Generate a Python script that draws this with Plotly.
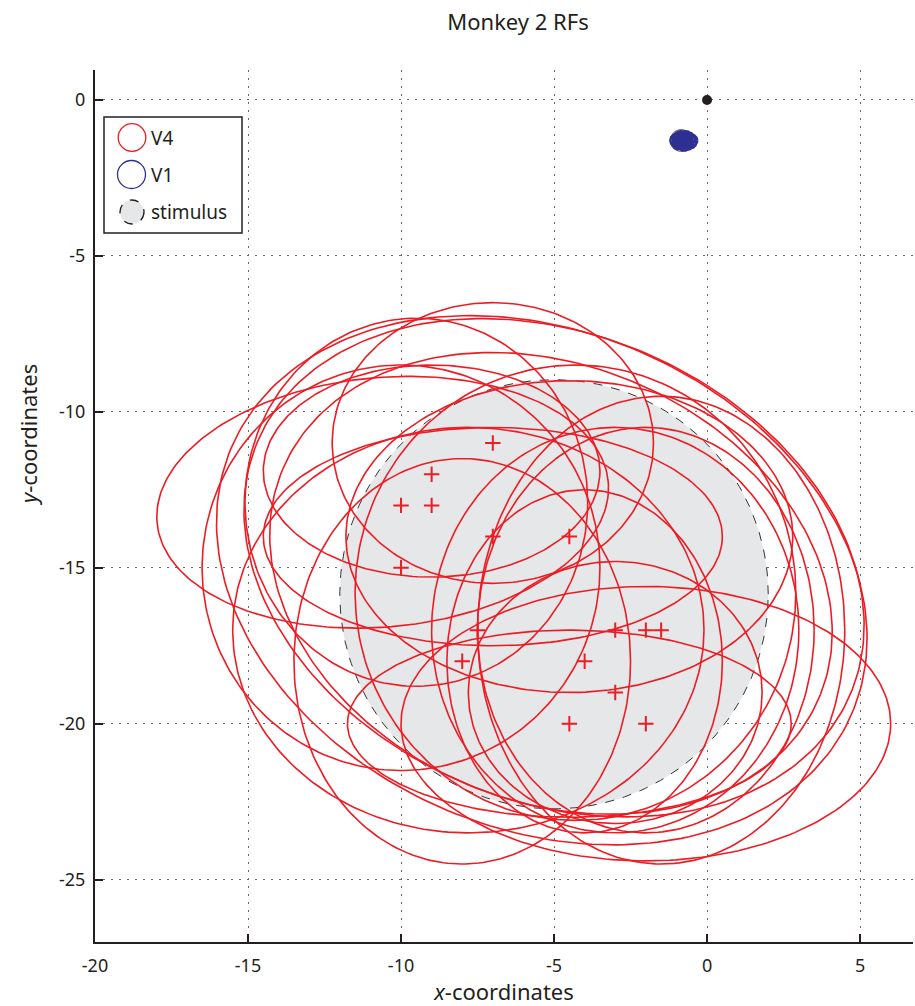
import numpy as np
import plotly.graph_objects as go

# ---------------- data ----------------
# V4 receptive-field centres (markers)
v4_cx = [-7, -9, -10, -9, -7, -4.5, -10, -7.5, -3, -2, -1.5, -8, -4, -3, -4.5, -2]
v4_cy = [-11, -12, -13, -13, -14, -14, -15, -17, -17, -17, -17, -18, -18, -19, -20, -20]

# V4 RF ellipses: centre x, centre y, semi-axis a, semi-axis b, tilt (deg)
ell_cx = [-7.0, -10.6, -9.0, -9.5, -8.0, -7.8, -10.0, -4.5, -2.0, -3.0, -4.0, -4.5, -7.0, -3.0, -1.5, -2.0, -5.0, -5.4, -5.1, -4.3]
ell_cy = [-11.0, -12.9, -11.9, -12.9, -18.0, -17.0, -15.0, -20.0, -20.0, -19.0, -18.0, -14.0, -14.0, -17.0, -17.0, -17.0, -15.0, -15.4, -15.5, -15.8]
ell_a = [5.25, 7.4, 5.5, 5.6, 5.5, 7.7, 6.5, 7.25, 8.0, 4.8, 4.5, 7.3, 7.5, 6.0, 6.0, 5.5, 10.5, 11.0, 9.5, 7.2]
ell_b = [4.5, 4.0, 3.4, 5.9, 6.5, 6.5, 6.5, 3.0, 4.4, 4.2, 5.5, 5.0, 3.5, 6.5, 7.5, 6.5, 7.5, 8.0, 7.0, 7.3]
ell_t = [0, 5, 0, 0, 0, 0, 0, 0, 0, 0, 0, 0, 0, 0, 0, 0, -22, -22, -22, 0]

# V1 receptive fields (small circles)
v1_cx = [-1.0, -0.9, -0.8, -0.7, -0.6, -0.5, -0.95, -0.85, -0.75, -0.65, -0.55, -0.8, -0.7, -0.9]
v1_cy = [-1.3, -1.25, -1.35, -1.3, -1.25, -1.3, -1.4, -1.2, -1.45, -1.4, -1.35, -1.28, -1.2, -1.35]
v1_r = [0.2, 0.22, 0.2, 0.22, 0.2, 0.18, 0.18, 0.2, 0.18, 0.2, 0.2, 0.25, 0.2, 0.22]

# stimuli
stim_v4 = dict(cx=-5.0, cy=-15.85, rx=7.0, ry=6.88)
stim_v1 = dict(cx=-0.85, cy=-1.3, rx=0.35, ry=0.35)
fix_x, fix_y = [0], [0]

xticks = [-20, -15, -10, -5, 0, 5]
yticks = [0, -5, -10, -15, -20, -25]

RED = "#ed1c24"
BLUE = "#2e3192"
GRAY = "#e6e7e8"
INK = "#231f20"

t = np.linspace(0, 2 * np.pi, 240)


def ellipse(cx, cy, a, b, th):
    th = np.deg2rad(th)
    x = cx + a * np.cos(t) * np.cos(th) - b * np.sin(t) * np.sin(th)
    y = cy + a * np.cos(t) * np.sin(th) + b * np.sin(t) * np.cos(th)
    return x, y


fig = go.Figure()

# stimulus V4
sx, sy = ellipse(stim_v4["cx"], stim_v4["cy"], stim_v4["rx"], stim_v4["ry"], 0)
fig.add_trace(go.Scatter(x=sx, y=sy, mode="lines", fill="toself", fillcolor=GRAY,
                         line=dict(color="#333333", width=1, dash="dash"), hoverinfo="skip"))

# V4 ellipses
ex, ey = [], []
for i in range(len(ell_cx)):
    x, y = ellipse(ell_cx[i], ell_cy[i], ell_a[i], ell_b[i], ell_t[i])
    ex += list(x) + [None]
    ey += list(y) + [None]
fig.add_trace(go.Scatter(x=ex, y=ey, mode="lines", line=dict(color=RED, width=1.6), hoverinfo="skip"))

# V4 centres
fig.add_trace(go.Scatter(x=v4_cx, y=v4_cy, mode="markers",
                         marker=dict(symbol="cross-thin", size=11, line=dict(color=RED, width=2))))

# stimulus V1
sx, sy = ellipse(stim_v1["cx"], stim_v1["cy"], stim_v1["rx"], stim_v1["ry"], 0)
fig.add_trace(go.Scatter(x=sx, y=sy, mode="lines", fill="toself", fillcolor=GRAY,
                         line=dict(color="#555555", width=1), hoverinfo="skip"))

# V1 circles
bx, by = [], []
for i in range(len(v1_cx)):
    x, y = ellipse(v1_cx[i], v1_cy[i], v1_r[i], v1_r[i], 0)
    bx += list(x) + [None]
    by += list(y) + [None]
fig.add_trace(go.Scatter(x=bx, y=by, mode="lines", line=dict(color=BLUE, width=2.5), hoverinfo="skip"))

# fixation
fig.add_trace(go.Scatter(x=fix_x, y=fix_y, mode="markers", marker=dict(color=INK, size=10)))

# ---------------- layout ----------------
W, H = 915, 1006
L, R, T, B = 95, 2, 70, 64
pw, ph = W - L - R, H - T - B


def px2paper(px, py):
    return (px - L) / pw, (H - B - py) / ph


shapes = []
# legend box
x0, y0 = px2paper(104, 233)
x1, y1 = px2paper(242, 117)
shapes.append(dict(type="rect", xref="paper", yref="paper", x0=x0, y0=y0, x1=x1, y1=y1,
                   line=dict(color=INK, width=1.5), fillcolor="white", layer="above"))
legend_items = [("V4", RED, None, 132, 137.5, 13.8, "solid"),
                ("V1", BLUE, None, 131.5, 174.5, 14, "solid"),
                ("stimulus", INK, GRAY, 132, 212, 12, "dash")]
annotations = []
for name, col, fill, cxp, cyp, r, dash in legend_items:
    ax0, ay0 = px2paper(cxp - r, cyp + r)
    ax1, ay1 = px2paper(cxp + r, cyp - r)
    shapes.append(dict(type="circle", xref="paper", yref="paper", x0=ax0, y0=ay0, x1=ax1, y1=ay1,
                       line=dict(color=col, width=1.3, dash=dash),
                       fillcolor=fill if fill else "rgba(0,0,0,0)", layer="above"))
    tx, ty = px2paper(149, cyp)
    annotations.append(dict(x=tx, y=ty, xref="paper", yref="paper", text=name, showarrow=False,
                            xanchor="left", yanchor="middle", font=dict(size=19, color=INK)))

# y-axis title placed like the original
yx, yy = px2paper(28, 435)
annotations.append(dict(x=yx, y=yy, xref="paper", yref="paper", text="<i>y</i>-coordinates",
                        showarrow=False, textangle=-90, xanchor="center", yanchor="middle",
                        font=dict(size=22, color=INK)))

font_family = "Noto Sans, Open Sans, sans-serif"
fig.update_layout(
    width=W, height=H,
    margin=dict(l=L, r=R, t=T, b=B),
    paper_bgcolor="white", plot_bgcolor="white",
    showlegend=False,
    font=dict(family=font_family, size=18, color=INK),
    title=dict(text="Monkey 2 RFs", x=518 / W, xanchor="center", y=1 - 22 / H, yanchor="middle",
               font=dict(size=22, color=INK)),
    shapes=shapes, annotations=annotations,
)
axis_common = dict(showline=True, linecolor=INK, linewidth=2, mirror=False,
                   ticks="inside", ticklen=8, tickwidth=2, tickcolor=INK,
                   showgrid=True, gridcolor="#6a6a6a", griddash="1.5px,6.5px", gridwidth=1.3,
                   zeroline=False, tickfont=dict(size=18, color=INK))
fig.update_xaxes(range=[-20, 6.73], tickvals=xticks, ticktext=[str(v) for v in xticks],
                 title=dict(text="<i>x</i>-coordinates", font=dict(size=22), standoff=4),
                 ticklabelstandoff=6, **axis_common)
fig.update_yaxes(range=[-27, 0.96], tickvals=yticks, ticktext=[str(v) for v in yticks],
                 ticklabelstandoff=4, **axis_common)

fig.write_html("out.html")
